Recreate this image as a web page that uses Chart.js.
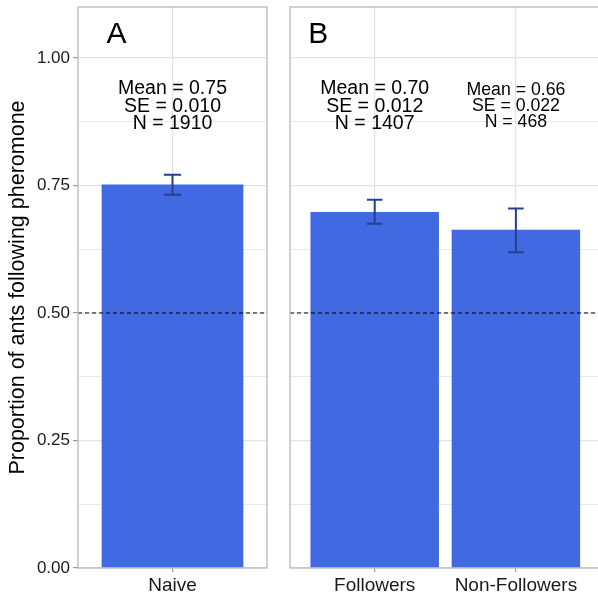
<!DOCTYPE html>
<html>
<head>
<meta charset="utf-8">
<script src="https://cdn.jsdelivr.net/npm/chart.js@4"></script>
<style>
  html, body { margin: 0; background: #fff; overflow: hidden; }
  canvas { position: absolute; top: 0; }
</style>
</head>
<body>
<canvas id="panelA" width="272" height="593" style="left:0px"></canvas>
<canvas id="panelB" width="318" height="593" style="left:284px"></canvas>
<script>
// Panel A data
const groupsA = ["Naive"];
const meansA = [0.752];
const lowerA = [0.732];
const upperA = [0.771];
const statsA = [["Mean = 0.75", "SE = 0.010", "N = 1910"]];

// Panel B data
const groupsB = ["Followers", "Non-Followers"];
const meansB = [0.698, 0.663];
const lowerB = [0.675, 0.619];
const upperB = [0.722, 0.705];
const statsB = [["Mean = 0.70", "SE = 0.012", "N = 1407"], ["Mean = 0.66", "SE = 0.022", "N = 468"]];

// y axis ticks (labelled) and minor grid lines
const yTicks = [0, 0.25, 0.5, 0.75, 1.0];
const yMinor = [0.125, 0.375, 0.625, 0.875];
const refLevel = 0.5;

const FONT = "'Liberation Sans', Arial, Helvetica, sans-serif";
const GRID = "#e3e3e3";
const BORDER = "#b8b8b8";
const BAR = "#4169e1";
const ERR = "#24408e";

// dashed reference line, error bars, text labels, panel letter and border
const panelPlugin = {
  id: "panel",
  afterDatasetsDraw(chart, args, opts) {
    const { ctx, chartArea, scales } = chart;
    const xs = scales.x, ys = scales.y;
    ctx.save();
    // reference line over the bars
    const yr = ys.getPixelForValue(refLevel);
    ctx.strokeStyle = "#000";
    ctx.lineWidth = 1;
    ctx.setLineDash([4, 3]);
    ctx.beginPath();
    ctx.moveTo(chartArea.left, yr);
    ctx.lineTo(chartArea.right, yr);
    ctx.stroke();
    ctx.setLineDash([]);
    // error bars
    ctx.strokeStyle = ERR;
    ctx.lineWidth = 2;
    opts.lower.forEach((lo, i) => {
      const x = xs.getPixelForValue(i + 1);
      const x0 = xs.getPixelForValue(i + 1 - 0.055);
      const x1 = xs.getPixelForValue(i + 1 + 0.055);
      const yl = ys.getPixelForValue(lo);
      const yu = ys.getPixelForValue(opts.upper[i]);
      ctx.beginPath();
      ctx.moveTo(x, yl); ctx.lineTo(x, yu);
      ctx.moveTo(x0, yl); ctx.lineTo(x1, yl);
      ctx.moveTo(x0, yu); ctx.lineTo(x1, yu);
      ctx.stroke();
    });
    ctx.restore();
  },
  afterDraw(chart, args, opts) {
    const { ctx, chartArea, scales } = chart;
    const xs = scales.x, ys = scales.y;
    ctx.save();
    ctx.fillStyle = "#000";
    ctx.textAlign = "center";
    ctx.textBaseline = "middle";
    opts.stats.forEach((lines, i) => {
      const size = opts.statSizes[i];
      const step = size * 0.9;
      const x = xs.getPixelForValue(i + 1);
      const yc = ys.getPixelForValue(0.905);
      ctx.font = size + "px " + FONT;
      lines.forEach((t, j) => ctx.fillText(t, x, yc + (j - 1) * step));
    });
    ctx.font = "30px " + FONT;
    ctx.fillText(opts.letter, xs.getPixelForValue(opts.letterX), ys.getPixelForValue(1.046));
    ctx.strokeStyle = BORDER;
    ctx.lineWidth = 1.3;
    ctx.strokeRect(chartArea.left, chartArea.top, chartArea.right - chartArea.left, chartArea.bottom - chartArea.top);
    ctx.restore();
  }
};

function yScale(showLabels) {
  return {
    type: "linear",
    min: 0,
    max: 1.1,
    afterBuildTicks: s => { s.ticks = yTicks.concat(yMinor).sort((a, b) => a - b).map(v => ({ value: v })); },
    afterFit: s => { s.width = showLabels ? 78 : 0; s.paddingTop = 0; s.paddingBottom = 0; },
    border: { display: false },
    grid: {
      color: GRID,
      lineWidth: c => (c.tick && yMinor.includes(c.tick.value)) ? 0.8 : 1.2,
      drawTicks: showLabels,
      tickLength: 5,
      tickColor: c => (c.tick && yTicks.includes(c.tick.value)) ? "#999" : "rgba(0,0,0,0)"
    },
    ticks: {
      display: showLabels,
      padding: 3,
      color: "#1a1a1a",
      font: { family: FONT, size: 17 },
      callback: v => yTicks.includes(v) ? v.toFixed(2) : ""
    },
    title: {
      display: showLabels,
      text: "Proportion of ants following pheromone",
      color: "#000",
      font: { family: FONT, size: 21.5 },
      padding: { top: 5, bottom: 0 }
    }
  };
}

function xScale(groups) {
  return {
    type: "linear",
    min: 0.4,
    max: groups.length + 0.6,
    offset: false,
    afterBuildTicks: s => { s.ticks = groups.map((g, i) => ({ value: i + 1 })); },
    afterFit: s => { s.height = 25; s.paddingLeft = 0; s.paddingRight = 0; },
    border: { display: false },
    grid: { offset: false, color: GRID, lineWidth: 1.2, tickLength: 4, tickColor: "#999" },
    ticks: {
      autoSkip: false,
      maxRotation: 0,
      padding: 2,
      color: "#1a1a1a",
      font: { family: FONT, size: 19 },
      callback: v => groups[v - 1]
    }
  };
}

function makePanel(id, groups, means, lower, upper, stats, statSizes, letter, letterX, barFrac, padding) {
  new Chart(document.getElementById(id).getContext("2d"), {
    type: "bar",
    data: {
      datasets: [{
        data: means.map((m, i) => ({ x: i + 1, y: m })),
        backgroundColor: BAR,
        borderWidth: 0,
        categoryPercentage: barFrac,
        barPercentage: 1
      }]
    },
    options: {
      responsive: false,
      animation: false,
      layout: { padding },
      scales: { x: xScale(groups), y: yScale(letter === "A") },
      plugins: {
        legend: { display: false },
        tooltip: { enabled: false },
        panel: { lower, upper, stats, statSizes, letter, letterX }
      }
    },
    plugins: [panelPlugin]
  });
}

makePanel("panelA", groupsA, meansA, lowerA, upperA, statsA, [19.5], "A", 0.645, 0.75,
  { left: 0, right: 5, top: 7, bottom: 0 });
makePanel("panelB", groupsB, meansB, lowerB, upperB, statsB, [19.5, 17.7], "B", 0.6, 0.91,
  { left: 6, right: 1.4, top: 7, bottom: 0 });
</script>
</body>
</html>
